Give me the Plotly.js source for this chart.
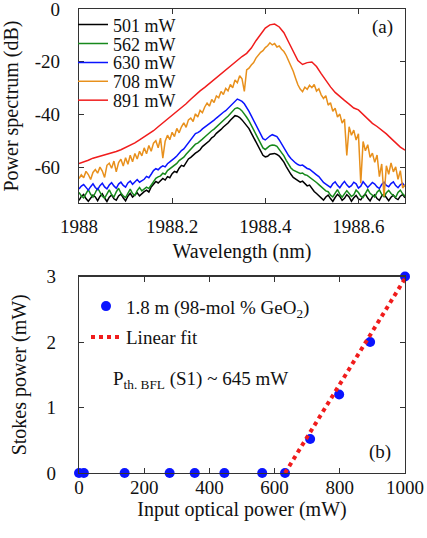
<!DOCTYPE html>
<html>
<head>
<meta charset="utf-8">
<script src="https://cdn.plot.ly/plotly-3.0.1.min.js"></script>
<style>
html,body{margin:0;padding:0;background:#fff;}
#chart{width:427px;height:538px;}
</style>
</head>
<body>
<div id="chart"></div>
<script>
// ---------- Panel (a): spectra ----------
const wavelengthStart = 1988.0;   // nm
const wavelengthStep = 0.005;     // nm, sampling for noisy spectra
const redStep = 0.01;             // nm, sampling for the smooth 891 mW spectrum

const legendLabels = ['501 mW', '562 mW', '630 mW', '708 mW', '891 mW'];

const p501 = [
 -72.5,-71,-70.2,-71.8,-72.8,-71.5,-70.5,-71.2,-72.6,-71,
 -70,-71.6,-72.9,-71.3,-70.4,-71.9,-72.4,-70.8,-70.1,-71.5,
 -72.7,-70.9,-69.8,-71.2,-70.5,-69.6,-70.8,-69.9,
 -69.2,-68.6,-69.3,-67.4,-66.2,-65.3,-65.9,-65,-64.2,-64.8,-63.5,-63.9,
 -62.4,-61.5,-61.9,-60.3,-59.2,-59.6,-58,-56.8,-56.2,-55.3,
 -54.6,-54,-53.3,-52.1,-51.4,-50.6,-49.9,-48.8,-48.2,-47.1,
 -46.5,-45.6,-44.7,-44.1,-43.2,-42.1,-41.2,-40.4,-40.6,-41.1,
 -42,-43,-44.1,-45.3,-47,-48.8,-50.6,-52.4,-54,-55.4,
 -56,-55.8,-55,-54.8,-54.7,-55.1,-55.7,-56.8,-58,-59.7,
 -61.3,-62.6,-63.8,-64.3,-64.9,-65.6,-65.2,-66.3,-67,-66.7,
 -68,-69.1,-69.9,-70.8,-71.6,-72.4,-71.2,
 -70.5,-71.8,-72.9,-71.4,-70.2,-71,-72.5,-71.7,-70.3,-71.2,
 -72.8,-71.5,-70.6,-71.9,-72.3,-70.9,-70.1,-71.6,-72.7,-71.1,
 -70.4,-71.8,-72.5,-70.8,-70.2,-71.4,-72.6,-71.3,-70.5,-71.7,
 -72.2,-70.9,-70.3,-71.5
];

const p562 = [
 -69.5,-70.8,-71.5,-69.9,-68.4,-70.2,-71.3,-69.6,-67.8,-69.4,
 -70.9,-71.6,-69.8,-68.5,-70.3,-71.2,-69.3,-67.9,-69.7,-70.8,
 -71.4,-69.5,-68.2,-69.9,-70.6,-68.8,-67.6,-68.9,
 -68.3,-67.5,-68,-66.6,-65.2,-64.1,-63.6,-63.2,-62.2,-62.6,-61.2,-60.6,
 -59.7,-59.1,-58.5,-57.4,-56.8,-56.1,-55,-54,-53.3,-52.1,
 -51.2,-50.8,-50.2,-49.3,-48.5,-47.6,-46.9,-46.1,-45.5,-44.6,
 -43.8,-43,-42.1,-41.4,-40.6,-39.6,-38.6,-37.7,-37.4,-37.8,
 -38.6,-39.7,-41,-42.4,-44,-45.7,-47.4,-49,-50.9,-52.6,
 -53.2,-52.5,-51.8,-51.5,-51.6,-52,-53.1,-54.2,-55.6,-57.3,
 -59,-60.2,-61,-61.5,-61.9,-62.3,-62.1,-62.8,-63,-63.6,
 -64.3,-64.9,-65.7,-66.5,-67.4,-68.2,-68.9,
 -69.2,-70.5,-71.2,-69.6,-68.4,-70.1,-71.3,-70,-68.8,-69.9,
 -71,-70.4,-68.6,-69.5,-70.9,-71.4,-69.7,-68.3,-69.8,-70.7,
 -71.2,-69.4,-68.5,-70.2,-71.1,-69.6,-68.7,-69.9,-70.8,-71.3,
 -69.5,-68.6,-70,-70.9
];

const p630 = [
 -68.2,-67.1,-66.5,-67.8,-68.6,-67.3,-66.2,-67.6,-68.4,-66.9,
 -66,-67.4,-68.1,-66.7,-65.8,-67,-67.9,-66.3,-65.6,-66.8,
 -67.5,-65.9,-65.2,-66.4,-65.4,-64.6,-65.6,-64.9,
 -64.5,-63.4,-63.9,-62.6,-61.2,-60.5,-60.9,-60,-59.4,-59.8,-58.6,-57.9,
 -57.3,-56.5,-55.7,-54.4,-53.6,-53,-51.9,-50.5,-49.6,-48.4,
 -47.2,-46.8,-46.3,-45.4,-44.8,-44,-43.3,-42.9,-42.1,-41.3,
 -40.5,-39.9,-39.1,-38.5,-37.6,-36.9,-35.8,-35,-34.1,-34.5,
 -35,-35.9,-37.2,-38.8,-40.5,-42.3,-44.2,-45.9,-47.6,-49.1,
 -49.6,-48.8,-48.1,-47.6,-48,-48.3,-49.6,-51.2,-52.7,-54.2,
 -55.5,-56.6,-57.6,-58.3,-58.9,-59.3,-59.1,-59.8,-60.4,-60.7,
 -61.5,-62.2,-62.8,-63.5,-64.6,-65.7,-66.3,
 -66.9,-67.6,-66.2,-65.5,-66.8,-67.7,-66.4,-65.3,-66.6,-67.5,
 -66.9,-65.6,-66.2,-67.8,-67.1,-65.4,-66.5,-67.6,-66.7,-65.7,
 -66.3,-67.4,-68,-66.5,-65.6,-66.8,-67.3,-66.1,-65.5,-66.9,
 -67.7,-66.6,-66,-67.2
];

const p708 = [
 -64.2,-62.8,-63.9,-61.5,-62.7,-64.6,-61.9,-60.8,-62.2,-59.9,
 -61.4,-63.8,-59.2,-58.4,-60.3,-57.6,-61.7,-58.2,-56.9,-59.5,
 -56.3,-58.8,-55.4,-57.9,-54.7,-56.8,-53.9,-55.6,-52.6,-54.8,
 -51.7,-53.9,-50.8,-49.9,-52.6,-48.9,-56.5,-50.1,-47.8,-49.5,
 -46.7,-48.3,-45.2,-46.9,-44.6,-43.1,-44.8,-42,-41.3,-42.6,
 -39.7,-40.9,-38.4,-39.3,-37.1,-35.6,-36.8,-34.3,-35.4,-32.9,
 -33.6,-31.2,-32.4,-30.1,-31,-28.6,-29.8,-26.9,-27.9,-25.3,
 -26.4,-31.2,-23.1,-22.4,-21.2,-20.3,-18.6,-17.5,-16.4,-15.8,
 -14.6,-13.9,-12.8,-13.6,-13.1,-14.4,-14,-15.2,-16.1,-17.6,
 -19.5,-21.4,-23.6,-26.2,-28.7,-30.3,-31.3,-29.6,-30.4,-28.9,
 -29.8,-28.6,-31.1,-30.2,-32.5,-33.9,-32.8,-36.4,-35.5,-38.7,
 -37.6,-40.9,-39.8,-43.2,-41.7,-55.5,-44.6,-47.8,-45.9,-49.6,
 -47.3,-66,-50.2,-53.7,-51.4,-56.2,-54.6,-58.1,-55.3,-63.5,
 -58.7,-71,-59.4,-62.6,-58.3,-61.7,-59.8,-64.5,-61.2,-67.8,
 -66.5
];

const p891 = [
 -58.5,-58,-57.3,-56.5,-56,-55.6,-55,-54.6,-54,-53.3,
 -52.5,-51.7,-50.7,-49.6,-48.5,-47.3,-46.1,-44.6,-43.2,-41.8,
 -40.4,-39,-37.5,-35.9,-34.2,-32.5,-31,-29.7,-28.2,-26.8,
 -25.4,-24,-22.5,-21,-19.5,-18,-16.8,-14.8,-12,-9.5,
 -7.2,-6,-5.7,-6.8,-9,-12.5,-16.2,-19.5,-21,-20.3,
 -20.1,-21.8,-24.5,-27.2,-29.5,-31.6,-33.2,-34.6,-36,-37.5,
 -38.2,-40,-41.8,-43.3,-44.5,-45.8,-47.3,-49,-50.8,-52.3,
 -53.5
];

const xTicksA = [1988, 1988.2, 1988.4, 1988.6];
const xTickTextA = ['1988', '1988.2', '1988.4', '1988.6'];
const yTicksA = [0, -20, -40, -60];
const yTickTextA = ['0', '-20', '-40', '-60'];

// ---------- Panel (b): Stokes power ----------
const inputPower = [0, 15, 140, 278, 355, 446, 562, 632, 709, 798, 893, 1000];
const stokesPower = [0, 0, 0, 0, 0, 0, 0, 0, 0.52, 1.2, 2.0, 3.0];
const fitInput = [632, 1000];
const fitStokes = [0, 2.97];
const xTicksB = [0, 200, 400, 600, 800, 1000];
const yTicksB = [0, 1, 2, 3];

// ---------- styling ----------
const W = 427, H = 538;
const ML = 79, MR = 22, MT = 6, MB = 65.3;
const FONT = 'Liberation Serif, Times New Roman, serif';
const TXT = '#111';
function fnt(size) { return {family: FONT, size: size, color: TXT}; }
function px2paperX(px) { return (px - ML) / (W - ML - MR); }
function px2paperY(py) { return (H - MB - py) / (H - MT - MB); }

const colors = ['#000000', '#17891c', '#0a14ff', '#e8901c', '#f01c1c'];
const spectra = [p501, p562, p630, p708, p891];
const steps = [wavelengthStep, wavelengthStep, wavelengthStep, wavelengthStep, redStep];
const legendRowsA = [22, 41, 60, 79, 98];

const traces = [];
const layout = {
  width: W, height: H,
  margin: {l: ML, r: MR, t: MT, b: MB, pad: 0},
  paper_bgcolor: '#fff', plot_bgcolor: '#fff',
  font: fnt(19),
  showlegend: true,
};

spectra.forEach((ys, k) => {
  const lg = k === 0 ? 'legend' : 'legend' + (k + 1);
  traces.push({
    type: 'scatter', mode: 'lines', name: legendLabels[k],
    x0: wavelengthStart, dx: steps[k], y: ys,
    xaxis: 'x', yaxis: 'y', legend: lg,
    line: {color: colors[k], width: 1.5},
  });
  layout[lg] = {
    x: px2paperX(73), y: px2paperY(legendRowsA[k]), xanchor: 'left', yanchor: 'middle',
    bgcolor: 'rgba(0,0,0,0)', borderwidth: 0, itemwidth: 30,
    font: fnt(18),
  };
});

traces.push({
  type: 'scatter', mode: 'markers', name: '1.8 m (98-mol % GeO<sub>2</sub>)',
  x: inputPower, y: stokesPower, xaxis: 'x2', yaxis: 'y2', legend: 'legend6',
  marker: {color: '#0a14ff', size: 10}, cliponaxis: false,
});
traces.push({
  type: 'scatter', mode: 'lines', name: 'Linear fit',
  x: fitInput, y: fitStokes, xaxis: 'x2', yaxis: 'y2', legend: 'legend7',
  line: {color: '#f01c1c', width: 4, dash: 'dot'}, cliponaxis: false,
});
layout.legend6 = {x: px2paperX(86), y: px2paperY(305), xanchor: 'left', yanchor: 'middle',
  bgcolor: 'rgba(0,0,0,0)', itemwidth: 30, font: fnt(19)};
layout.legend7 = {x: px2paperX(86), y: px2paperY(336), xanchor: 'left', yanchor: 'middle',
  bgcolor: 'rgba(0,0,0,0)', itemwidth: 30, font: fnt(19)};

function axis(extra) {
  return Object.assign({
    showline: true, linecolor: '#333', linewidth: 1.2, mirror: 'ticks',
    ticks: 'inside', ticklen: 5, tickwidth: 1, tickcolor: '#333',
    showgrid: false, zeroline: false, automargin: false,
    ticklabeloverflow: 'allow',
    tickfont: fnt(19),
  }, extra);
}

layout.xaxis = axis({
  domain: [0, 1], anchor: 'y', range: [1988, 1988.7],
  tickvals: xTicksA, ticktext: xTickTextA, ticklabelstandoff: 6,
  title: {text: 'Wavelength (nm)', font: fnt(20), standoff: 8},
});
layout.yaxis = axis({
  domain: [0.5818, 1], anchor: 'x', range: [-73.5, 0.01],
  tickvals: yTicksA, ticktext: yTickTextA, ticklabelstandoff: 14,
  title: {text: 'Power spectrum (dB)', font: fnt(20), standoff: 12},
});
layout.xaxis2 = axis({
  domain: [0, 1], anchor: 'y2', range: [0, 1000],
  tickvals: xTicksB, ticklabelstandoff: -3,
  title: {text: 'Input optical power (mW)', font: fnt(20), standoff: 0},
});
layout.yaxis2 = axis({
  domain: [0, 0.4233], anchor: 'x2', range: [0, 3],
  tickvals: yTicksB, ticklabelstandoff: 18,
  title: {text: 'Stokes power (mW)', font: fnt(20), standoff: 14},
});

layout.annotations = [
  {xref: 'paper', yref: 'paper', x: px2paperX(382), y: px2paperY(24), text: '(a)',
   showarrow: false, xanchor: 'center', yanchor: 'middle', font: fnt(19)},
  {xref: 'paper', yref: 'paper', x: px2paperX(380), y: px2paperY(452), text: '(b)',
   showarrow: false, xanchor: 'center', yanchor: 'middle', font: fnt(19)},
  {xref: 'paper', yref: 'paper', x: px2paperX(111), y: px2paperY(379), text: 'P<sub>th. BFL</sub> (S1) ~ 645 mW',
   showarrow: false, xanchor: 'left', yanchor: 'middle', font: fnt(19)},
];

Plotly.newPlot('chart', traces, layout, {staticPlot: true, displayModeBar: false});
</script>
</body>
</html>
